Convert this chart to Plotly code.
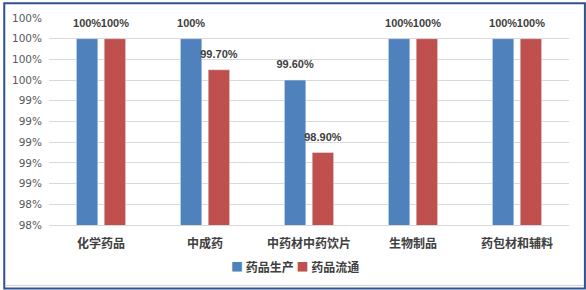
import plotly.graph_objects as go

categories = ["化学药品", "中成药", "中药材中药饮片", "生物制品", "药包材和辅料"]
series_names = ["药品生产", "药品流通"]
production = [100.0, 100.0, 99.6, 100.0, 100.0]
circulation = [100.0, 99.7, 98.9, 100.0, 100.0]
production_labels = ["100%", "100%", "99.60%", "100%", "100%"]
circulation_labels = ["100%", "99.70%", "98.90%", "100%", "100%"]
tick_values = [98.2, 98.4, 98.6, 98.8, 99.0, 99.2, 99.4, 99.6, 99.8, 100.0, 100.2]
tick_labels = ["98%", "98%", "99%", "99%", "99%", "99%", "99%", "100%", "100%", "100%", "100%"]
colors = ["#4F81BD", "#C0504D"]

W, H = 586, 290
L, R, T, B = 46, 17, 16, 65
pw, ph = W - L - R, H - T - B
GAP = 0.465

def px_x(p):
    return (p - L) / pw

def px_y(p):
    return (H - B - p) / ph

num_font = dict(family="Liberation Sans, Arial", size=11, color="#404040", weight="bold")

fig = go.Figure()
for name, vals, col in [(series_names[0], production, colors[0]),
                        (series_names[1], circulation, colors[1])]:
    fig.add_trace(go.Bar(name=name, x=categories, y=vals, marker_color=col,
                         offsetgroup=name, showlegend=False, hoverinfo="skip"))
for name, vals, labels in [(series_names[0], production, production_labels),
                           (series_names[1], circulation, circulation_labels)]:
    fig.add_trace(go.Scatter(x=categories, y=vals, mode="markers+text", text=labels,
                             textposition="top center", textfont=num_font,
                             marker=dict(size=13, opacity=0), offsetgroup=name,
                             cliponaxis=False, showlegend=False, hoverinfo="skip"))

legend_text = (f"<span style='color:{colors[0]}'>■</span> {series_names[0]} "
               f"<span style='color:{colors[1]}'>■</span> {series_names[1]}")

fig.update_layout(
    width=W, height=H,
    margin=dict(l=L, r=R, t=T, b=B),
    paper_bgcolor="white", plot_bgcolor="white",
    barmode="group", bargap=GAP, bargroupgap=0.23,
    scattermode="group", scattergap=GAP,
    showlegend=False,
    xaxis=dict(showgrid=False, showline=True, linecolor="#D9D9D9", linewidth=1,
               ticks="", ticklabelstandoff=8,
               tickfont=dict(family="Noto Sans CJK SC", size=12, color="#404040", weight="bold")),
    yaxis=dict(range=[98.2, 100.2], tickvals=tick_values, ticktext=tick_labels,
               showgrid=True, gridcolor="#D9D9D9", gridwidth=1, zeroline=False,
               showline=False, ticks="", ticklabelstandoff=6,
               tickfont=dict(family="DejaVu Sans, Verdana", size=10.5, color="#595959")),
    font=dict(family="Noto Sans CJK SC"),
    annotations=[dict(text=legend_text, xref="paper", yref="paper", x=px_x(293), y=px_y(267),
                      xanchor="center", yanchor="middle", showarrow=False,
                      font=dict(family="Noto Sans CJK SC", size=12, color="#404040", weight="bold"))],
    shapes=[
        dict(type="rect", xref="paper", yref="paper",
             x0=px_x(1), x1=px_x(585), y0=px_y(1), y1=px_y(289),
             line=dict(color="#2F528F", width=2), fillcolor="rgba(0,0,0,0)", layer="above"),
        dict(type="line", xref="paper", yref="paper",
             x0=px_x(2), x1=px_x(584), y0=px_y(286), y1=px_y(286),
             line=dict(color="#D0D0D0", width=1)),
    ],
)

fig.write_html("out.html")
